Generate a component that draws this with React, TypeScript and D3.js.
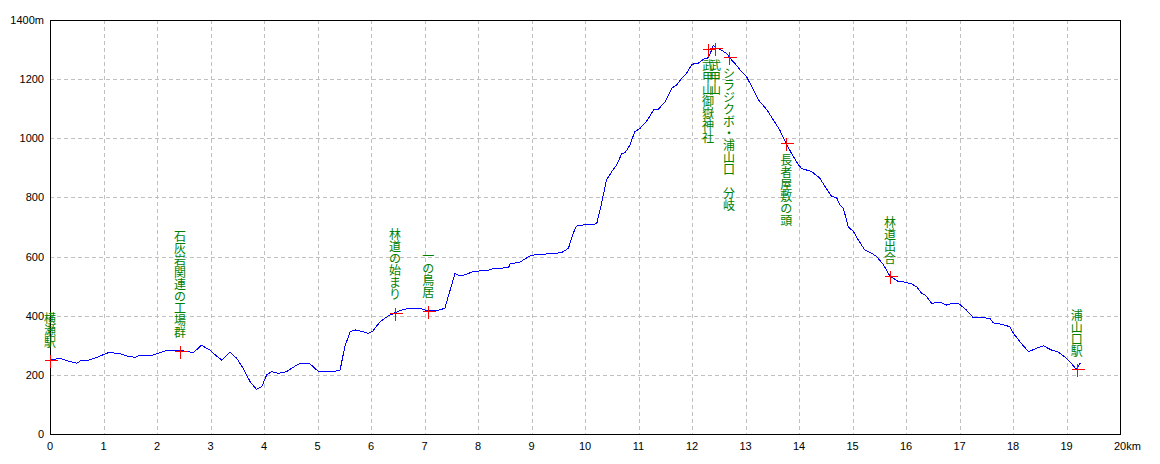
import React, { useEffect, useRef } from "react";
import * as d3 from "d3";

// --- Elevation profile (distance in km, elevation in m)
const distanceKm = [
  0, 0.19, 0.28, 0.5, 0.59, 0.69, 0.9, 1.09, 1.28, 1.43, 1.59, 1.68, 1.9, 2.02, 2.21, 2.43, 2.55, 2.68,
  2.83, 2.99, 3.05, 3.21, 3.36, 3.49, 3.61, 3.74, 3.86, 3.96, 4.05, 4.14, 4.27, 4.42, 4.55, 4.67, 4.86,
  5.02, 5.2, 5.42, 5.51, 5.61, 5.7, 5.86, 5.95, 6.04, 6.17, 6.32, 6.45, 6.57, 6.7, 6.92, 7.07, 7.23,
  7.38, 7.48, 7.57, 7.63, 7.73, 7.91, 8.22, 8.29, 8.57, 8.6, 8.79, 8.97, 9.03, 9.22, 9.56, 9.69, 9.78,
  9.84, 9.97, 10.19, 10.22, 10.31, 10.4, 10.5, 10.59, 10.69, 10.75, 10.84, 10.93, 11.03, 11.12, 11.21,
  11.28, 11.37, 11.5, 11.62, 11.71, 11.81, 11.9, 11.99, 12.06, 12.12, 12.21, 12.3, 12.37, 12.4, 12.46,
  12.49, 12.65, 12.74, 12.8, 12.9, 13.02, 13.15, 13.24, 13.4, 13.52, 13.64, 13.76, 13.86, 13.99, 14.05,
  14.24, 14.39, 14.49, 14.61, 14.7, 14.77, 14.83, 14.92, 15.02, 15.11, 15.23, 15.36, 15.45, 15.58, 15.7,
  15.86, 15.95, 16.11, 16.2, 16.29, 16.36, 16.48, 16.64, 16.76, 16.86, 16.98, 17.13, 17.26, 17.44, 17.57,
  17.63, 17.79, 17.94, 18.01, 18.13, 18.29, 18.44, 18.57, 18.72, 18.84, 19.0, 19.09, 19.18, 19.22, 19.26,
];
const elevationM = [
  250, 256, 250, 239, 250, 248, 261, 275, 273, 264, 259, 266, 266, 273, 284, 282, 280, 275,
  300, 284, 273, 250, 277, 256, 222, 177, 151, 160, 200, 211, 205, 211, 226, 239, 237,
  211, 211, 214, 295, 346, 352, 346, 340, 349, 380, 399, 410, 419, 425, 425, 416, 417,
  425, 487, 543, 537, 537, 549, 555, 560, 562, 575, 582, 602, 605, 608, 613, 628, 679,
  703, 707, 710, 712, 780, 859, 887, 910, 949, 951, 977, 1022, 1034, 1051, 1073,
  1096, 1098, 1124, 1169, 1180, 1203, 1220, 1248, 1254, 1254, 1267, 1272, 1299, 1315, 1304,
  1304, 1287, 1265, 1254, 1231, 1208, 1163, 1130, 1096, 1062, 1028, 983, 949, 910, 898,
  887, 865, 836, 803, 800, 774, 763, 701, 684, 656, 622, 611, 600, 572, 534,
  515, 515, 507, 498, 476, 470, 442, 445, 436, 442, 442, 419, 393, 393, 391,
  376, 371, 363, 340, 312, 278, 290, 298, 284, 278, 256, 239, 219, 228, 241,
];

// --- Waypoints
const pointNames = [
  "横瀬駅",
  "石灰岩関連の工場群",
  "林道の始まり",
  "一の鳥居",
  "武甲山御嶽神社",
  "武甲山",
  "シラジクボ・浦山口　分岐",
  "長者屋敷の頭",
  "林道出合",
  "浦山口駅",
];
const pointKm = [0, 2.43, 6.45, 7.07, 12.3, 12.43, 12.69, 13.76, 15.7, 19.19];
const pointElev = [250, 282, 410, 416, 1302, 1304, 1276, 983, 534, 219];

// --- Axis ticks
const xTicks = d3.range(0, 21, 1);
const yTicks = d3.range(0, 1401, 200);

const App: React.FC = () => {
  const ref = useRef<SVGSVGElement | null>(null);

  useEffect(() => {
    if (!ref.current) return;
    const width = 1160;
    const height = 464;
    const left = 50;
    const right = 1120;
    const top = 20;
    const bottom = 434;

    const svg = d3.select(ref.current);
    svg.selectAll("*").remove();
    svg.attr("width", width).attr("height", height);

    svg.append("rect").attr("width", width).attr("height", height).attr("fill", "#fff");

    const x = d3.scaleLinear().domain([0, 20]).range([left, right]);
    const y = d3.scaleLinear().domain([0, 1400]).range([bottom, top]);

    // grid
    const grid = svg.append("g").attr("stroke", "#c0c0c0").attr("stroke-dasharray", "4,3").attr("shape-rendering", "crispEdges");
    grid
      .selectAll("line.v")
      .data(xTicks.slice(1, -1))
      .join("line")
      .attr("class", "v")
      .attr("x1", (d) => Math.round(x(d)) + 0.5)
      .attr("x2", (d) => Math.round(x(d)) + 0.5)
      .attr("y1", top)
      .attr("y2", bottom);
    grid
      .selectAll("line.h")
      .data(yTicks.slice(1, -1))
      .join("line")
      .attr("class", "h")
      .attr("x1", left)
      .attr("x2", right)
      .attr("y1", (d) => Math.round(y(d)) + 0.5)
      .attr("y2", (d) => Math.round(y(d)) + 0.5);

    // frame
    svg
      .append("rect")
      .attr("x", left + 0.5)
      .attr("y", top + 0.5)
      .attr("width", right - left)
      .attr("height", bottom - top)
      .attr("fill", "none")
      .attr("stroke", "#000")
      .attr("stroke-width", 1.2)
      .attr("shape-rendering", "crispEdges");

    // tick labels
    const tickFont = "'Liberation Sans', Arial, sans-serif";
    svg
      .append("g")
      .selectAll("text")
      .data(xTicks)
      .join("text")
      .attr("x", (d) => (d === 20 ? x(d) - 6 : x(d)))
      .attr("y", 450)
      .attr("text-anchor", (d) => (d === 20 ? "start" : "middle"))
      .style("font-family", tickFont)
      .style("font-size", "11px")
      .style("fill", "#000")
      .text((d) => (d === 20 ? "20km" : String(d)));

    svg
      .append("g")
      .selectAll("text")
      .data(yTicks)
      .join("text")
      .attr("x", 44)
      .attr("y", (d) => y(d) + 4)
      .attr("text-anchor", "end")
      .style("font-family", tickFont)
      .style("font-size", "11px")
      .style("fill", "#000")
      .text((d) => (d === 1400 ? "1400m" : String(d)));

    // profile line
    const line = d3
      .line<number>()
      .x((_, i) => x(distanceKm[i]))
      .y((d) => y(d));
    svg
      .append("path")
      .datum(elevationM)
      .attr("d", line)
      .attr("fill", "none")
      .attr("stroke", "#0000ff")
      .attr("stroke-width", 1)
      .attr("shape-rendering", "crispEdges");

    // waypoint crosses
    const pts = pointNames.map((name, i) => ({ name, km: pointKm[i], elev: pointElev[i] }));
    const cross = svg
      .append("g")
      .attr("stroke", "#ff0000")
      .attr("stroke-width", 1)
      .attr("shape-rendering", "crispEdges");
    pts.forEach((p) => {
      const cx = Math.round(x(p.km)) + 0.5;
      const cy = Math.round(y(p.elev)) + 0.5;
      cross.append("line").attr("x1", cx - 6).attr("x2", cx + 7).attr("y1", cy).attr("y2", cy);
      cross.append("line").attr("x1", cx).attr("x2", cx).attr("y1", cy - 6).attr("y2", cy + 7);
    });

    // vertical labels (one glyph per row)
    const below = new Set(["武甲山御嶽神社", "武甲山", "シラジクボ・浦山口　分岐", "長者屋敷の頭"]);
    const step = 12;
    const labels = svg.append("g").style("font-family", "'Noto Sans CJK JP', sans-serif").style("font-size", "12px").style("fill", "#008000");
    pts.forEach((p) => {
      const cx = x(p.km);
      const cy = y(p.elev);
      const chars = Array.from(p.name);
      const startTop = below.has(p.name) ? cy + 11 : cy - 12 - chars.length * step;
      chars.forEach((c, i) => {
        labels
          .append("text")
          .attr("x", cx)
          .attr("y", startTop + i * step + 10.5)
          .attr("text-anchor", "middle")
          .text(c);
      });
    });

    return () => {
      d3.select(ref.current).selectAll("*").remove();
    };
  }, []);

  return <svg ref={ref} style={{ position: "absolute", left: 0, top: 0, display: "block" }}></svg>;
};

export default App;
